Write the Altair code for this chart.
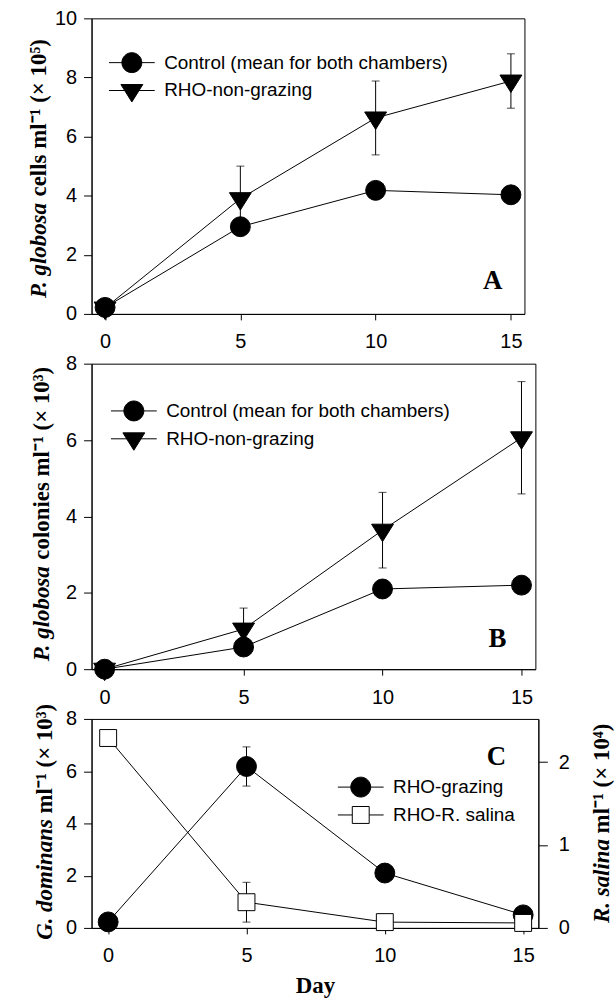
import altair as alt
import pandas as pd

# ---------------- data ----------------
days = [0, 5, 10, 15]

# Panel A: P. globosa cells ml-1 (x 10^5)
a_control = [0.22, 2.95, 4.18, 4.03]
a_rho = [0.20, 3.90, 6.63, 7.88]
a_rho_err = [0.0, 1.10, 1.25, 0.92]

# Panel B: P. globosa colonies ml-1 (x 10^3)
b_control = [0.0, 0.58, 2.10, 2.20]
b_rho = [0.0, 1.05, 3.64, 6.06]
b_rho_err = [0.0, 0.55, 0.99, 1.47]

# Panel C: G. dominans ml-1 (x 10^3) (left) and R. salina ml-1 (x 10^4) (right)
c_grazing = [0.23, 6.18, 2.10, 0.50]
c_grazing_err = [0.0, 0.75, 0.0, 0.0]
c_salina = [2.29, 0.31, 0.07, 0.06]
c_salina_err = [0.0, 0.24, 0.0, 0.0]

series_ab = ["Control (mean for both chambers)", "RHO-non-grazing"]
series_c = ["RHO-grazing", "RHO-R. salina"]

SANS = "Liberation Sans"
SERIF = "Liberation Serif"

# marker shapes (symbol paths) and legend keys (marker with line through)
TRI = "M-1.1,-0.6L1.1,-0.6L0,1.15Z"
LEG_CIRCLE = "M-2.3,0H2.3M1,0A1,1,0,1,1,-1,0A1,1,0,1,1,1,0Z"
LEG_TRI = "M-2.3,0H2.3M-1.1,-0.6L1.1,-0.6L0,1.15Z"
LEG_SQUARE = "M-2.3,0H-0.85M0.85,0H2.3M-0.85,-0.85H0.85V0.85H-0.85Z"


def series_df(vals, errs=None, name=None):
    d = pd.DataFrame({"day": days, "v": vals})
    if errs is not None:
        d["e"] = errs
        d["lo"] = d["v"] - d["e"]
        d["hi"] = d["v"] + d["e"]
    if name is not None:
        d["series"] = name
    return d


def xenc(domain, title=None):
    axis = alt.Axis(values=days, title=title, tickSize=6, labelPadding=12,
                    grid=False, format="d", titlePadding=9)
    return alt.X("day:Q", scale=alt.Scale(domain=domain, nice=False, zero=False), axis=axis)


def yenc(field, domain, values, orient="left", tick=8, pad=7):
    return alt.Y(f"{field}:Q",
                 scale=alt.Scale(domain=domain, nice=False, zero=False),
                 axis=alt.Axis(values=values, title=None, orient=orient,
                               tickSize=tick, labelPadding=pad, grid=False))


def series_layers(df, x, ydom, yvals, shape, size, fill, orient="left", tick=8, pad=7):
    base = alt.Chart(df)
    y = yenc("v", ydom, yvals, orient, tick, pad)
    layers = [base.mark_line(color="black", strokeWidth=1).encode(x=x, y=y)]
    if "e" in df.columns:
        sub = alt.Chart(df[df["e"] > 0])
        ylo = yenc("lo", ydom, yvals, orient, tick, pad)
        yhi = yenc("hi", ydom, yvals, orient, tick, pad)
        layers.append(sub.mark_rule(color="black", strokeWidth=1).encode(
            x=x, y=ylo, y2=alt.Y2("hi:Q")))
        layers.append(sub.mark_tick(orient="horizontal", size=8, thickness=1, color="black").encode(x=x, y=yhi))
        layers.append(sub.mark_tick(orient="horizontal", size=8, thickness=1, color="black").encode(x=x, y=ylo))
    layers.append(base.mark_point(shape=shape, size=size, filled=True, fill=fill,
                                  stroke="black", strokeWidth=1, opacity=1).encode(x=x, y=y))
    return layers


def legend_layer(df_long, x, y, names, paths, fills, lx, ly):
    leg = alt.Legend(title=None, orient="none", legendX=lx, legendY=ly,
                     symbolSize=400, symbolStrokeColor="black", symbolStrokeWidth=1,
                     symbolOpacity=1, symbolFillColor="black",
                     labelFont=SANS, labelFontSize=19, labelColor="black",
                     labelLimit=600, labelOffset=22, rowPadding=5, padding=0)
    return alt.Chart(df_long).mark_point(filled=True, opacity=0, size=400).encode(
        x=x, y=y,
        shape=alt.Shape("series:N", scale=alt.Scale(domain=names, range=paths), legend=leg),
        fill=alt.Fill("series:N", scale=alt.Scale(domain=names, range=fills), legend=leg),
    )


def txt(s, x, y, size=23, style="normal", angle=0, align="center", font=SERIF, weight="bold"):
    return alt.Chart(pd.DataFrame({"t": [s]})).mark_text(
        font=font, fontSize=size, fontWeight=weight, fontStyle=style,
        angle=angle, align=align, baseline="middle", color="black"
    ).encode(text="t:N", x=alt.value(x), y=alt.value(y))


# ---------------- Panel A ----------------
xa = xenc([-0.5, 15.5])
dfa_c = series_df(a_control, name=series_ab[0])
dfa_r = series_df(a_rho, a_rho_err, name=series_ab[1])
ya = yenc("v", [0, 10], [0, 2, 4, 6, 8, 10])
layers_a = (
    series_layers(dfa_c, xa, [0, 10], [0, 2, 4, 6, 8, 10], "circle", 400, "black")
    + series_layers(dfa_r, xa, [0, 10], [0, 2, 4, 6, 8, 10], TRI, 400, "black")
    + [legend_layer(pd.concat([dfa_c, dfa_r]), xa, ya, series_ab,
                    [LEG_CIRCLE, LEG_TRI], ["black", "black"], 30, 34),
       txt("P. globosa", -53, 281, style="italic", angle=270, align="left"),
       txt("cells ml⁻¹ (× 10⁵)", -53, 179, angle=270, align="left"),
       txt("A", 403, 264, size=27)]
)
panel_a = alt.layer(*layers_a).properties(width=435, height=297)

# ---------------- Panel B ----------------
xb = xenc([-0.47, 15.5])
dfb_c = series_df(b_control, name=series_ab[0])
dfb_r = series_df(b_rho, b_rho_err, name=series_ab[1])
yb = yenc("v", [0, 8], [0, 2, 4, 6, 8])
layers_b = (
    series_layers(dfb_c, xb, [0, 8], [0, 2, 4, 6, 8], "circle", 400, "black")
    + series_layers(dfb_r, xb, [0, 8], [0, 2, 4, 6, 8], TRI, 400, "black")
    + [legend_layer(pd.concat([dfb_c, dfb_r]), xb, yb, series_ab,
                    [LEG_CIRCLE, LEG_TRI], ["black", "black"], 32, 37),
       txt("P. globosa", -50, 299, style="italic", angle=270, align="left"),
       txt("colonies ml⁻¹ (× 10³)", -50, 197, angle=270, align="left"),
       txt("B", 408, 277, size=27)]
)
panel_b = alt.layer(*layers_b).properties(width=446, height=307)

# ---------------- Panel C ----------------
xc = xenc([-0.6, 15.55], title="Day")
dfc_g = series_df(c_grazing, c_grazing_err, name=series_c[0])
dfc_s = series_df(c_salina, c_salina_err, name=series_c[1])
yc = yenc("v", [0, 8], [0, 2, 4, 6, 8])
leg_c_df = pd.concat([dfc_g, dfc_g.assign(series=series_c[1])])
left_c = alt.layer(
    *series_layers(dfc_g, xc, [0, 8], [0, 2, 4, 6, 8], "circle", 400, "black"),
    legend_layer(leg_c_df, xc, yc, series_c, [LEG_CIRCLE, LEG_SQUARE], ["black", "white"], 260, 58),
    txt("G. dominans", -47, 222, style="italic", angle=270, align="left"),
    txt("ml⁻¹ (× 10³)", -47, 95, angle=270, align="left"),
    txt("R. salina", 513, 205, style="italic", angle=270, align="left"),
    txt("ml⁻¹ (× 10⁴)", 513, 115, angle=270, align="left"),
    txt("C", 407, 38, size=27),
)
right_c = alt.layer(
    *series_layers(dfc_s, xc, [0, 2.52], [0, 1, 2], "square", 289, "white",
                   orient="right", tick=9, pad=11)
)
panel_c = alt.layer(left_c, right_c).resolve_scale(y="independent").properties(width=449, height=210)

chart = alt.vconcat(panel_a, panel_b, panel_c, spacing=50, bounds="flush").resolve_scale(
    shape="independent", fill="independent"
).resolve_legend(
    shape="independent", fill="independent"
).properties(
    padding={"left": 27, "top": 5, "right": 0, "bottom": 0},
    background="white",
).configure_view(
    stroke="black", strokeWidth=1
).configure_axis(
    domainColor="black", tickColor="black", labelColor="black",
    labelFont=SANS, labelFontSize=20, titleFont=SERIF, titleFontSize=23,
    titleFontWeight="bold", titleColor="black", domainWidth=1, tickWidth=1,
    labelOverlap=False,
)

chart.save("out.html", embed_options={"renderer": "svg", "actions": False})
